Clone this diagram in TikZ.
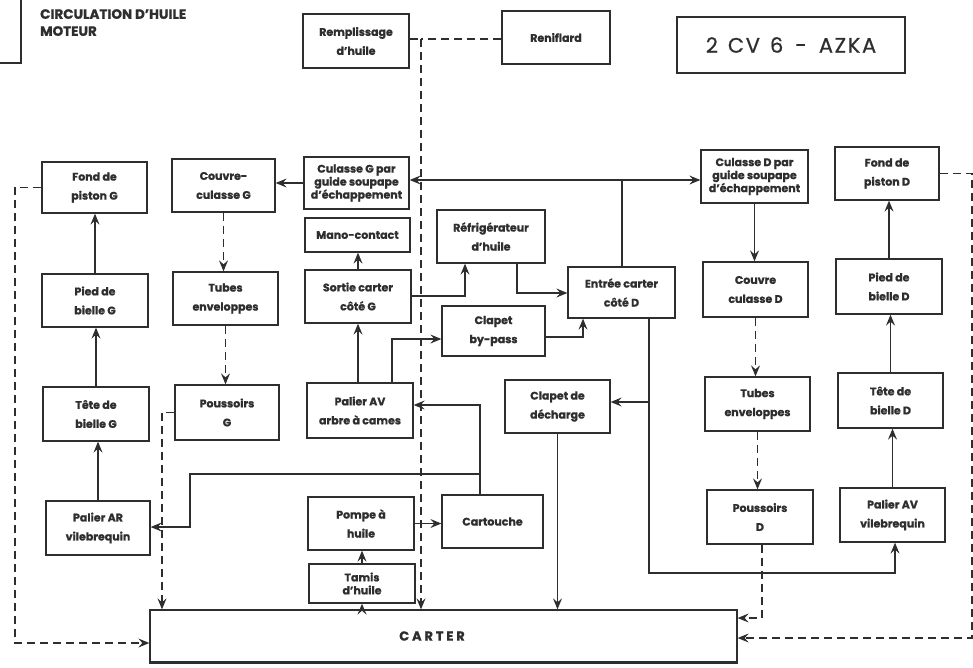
\documentclass[tikz,border=0pt]{standalone}
\usepackage{fontspec}
\setmainfont{Poppins}
\usetikzlibrary{arrows.meta}
\definecolor{ink}{HTML}{2E2E2E}
\newcommand\boxfont{\fontsize{11}{19}\selectfont\bfseries\addfontfeature{FakeBold=1}}
\newcommand\tightfont{\fontsize{11}{13}\selectfont\bfseries\addfontfeature{FakeBold=1}}
\tikzset{
  box/.style={draw=ink, line width=1.3pt, inner sep=0pt, align=center, font=\boxfont, text=ink},
  tight/.style={font=\tightfont},
  sz/.style 2 args={minimum width=#1pt, minimum height=#2pt},
  wire/.style={draw=ink, line width=1.2pt},
  dsh/.style={wire, dash pattern=on 8pt off 5pt},
  arr/.style={-{Stealth[length=11pt,width=9pt,inset=4pt]}},
}
\begin{document}
\begin{tikzpicture}[x=1pt,y=-1pt]
\useasboundingbox (0,0) rectangle (973,667);

% corner of the neighbouring frame and the heading
\draw[draw=ink, line width=1.6pt] (0,63) -- (21,63) -- (21,0);
\node[anchor=north west, align=left, inner sep=0pt, text=ink,
      font=\fontsize{13.5}{17}\selectfont\bfseries\addfontfeature{FakeBold=1}] (heading) at (40,9)
      {CIRCULATION D'HUILE\\MOTEUR};
\node[draw=ink, line width=2.2pt, sz={228}{56}, text=ink,
      font=\fontsize{21}{24}\selectfont\addfontfeature{LetterSpace=8,FakeBold=0.6}] (model) at (791,45)
      {2\hspace{10pt}CV\hspace{10pt}6\hspace{12pt}-\hspace{12pt}AZKA};

% top row
\node[box, sz={106}{54}] (remp)  at (356,41)   {Remplissage\\d'huile};
\node[box, sz={108}{53}] (renif) at (556,37.5) {Reniflard};

% left side (G)
\node[box, sz={105}{51}] (fondG)    at (94.5,187.5) {Fond de\\piston G};
\node[box, sz={106}{53}] (piedG)    at (95,300.5)   {Pied de\\bielle G};
\node[box, sz={106}{54}] (teteG)    at (96,414)     {Tête de\\bielle G};
\node[box, sz={104}{54}] (palierAR) at (98,528)     {Palier AR\\vilebrequin};
\node[box, sz={103}{53}] (couvG)    at (223.5,185.5){Couvre-\\culasse G};
\node[box, sz={105}{53}] (tubesG)   at (225.5,298.5){Tubes\\enveloppes};
\node[box, sz={104}{55}] (pousG)    at (227,412.5)  {Poussoirs\\G};

% centre
\node[box, tight, sz={105}{52}] (culG) at (356.5,183) {Culasse G par\\guide soupape\\d'échappement};
\node[box, sz={105}{34}] (mano)       at (357.5,235) {Mano-contact};
\node[box, sz={106}{53}] (sortieG)    at (358,296.5) {Sortie carter\\côté G};
\node[box, sz={106}{55}] (palierAVac) at (360,410.5) {Palier AV\\arbre à cames};
\node[box, sz={106}{53}] (pompe)      at (361,523.5) {Pompe à\\huile};
\node[box, tight, sz={106}{39}] (tamis) at (362,583.5) {Tamis\\d'huile};
\node[box, sz={108}{53}] (refrig)     at (491,236.5) {Réfrigérateur\\d'huile};
\node[box, sz={103}{50}] (bypass)     at (493.5,331) {Clapet\\by-pass};
\node[box, sz={107}{51}] (entree)     at (621.5,292.5) {Entrée carter\\côté D};
\node[box, sz={105}{53}] (decharge)   at (557.5,406.5) {Clapet de\\décharge};
\node[box, sz={101}{53}] (cartouche)  at (492.5,521.5) {Cartouche};

% right side (D)
\node[box, tight, sz={107}{53}] (culD) at (754.5,176.5) {Culasse D par\\guide soupape\\d'échappement};
\node[box, sz={104}{53}] (fondD)     at (887,173.5)   {Fond de\\piston D};
\node[box, sz={105}{55}] (couvD)     at (755.5,289.5) {Couvre\\culasse D};
\node[box, sz={106}{55}] (piedD)     at (889,286.5)   {Pied de\\bielle D};
\node[box, sz={105}{54}] (tubesD)    at (757.5,404)   {Tubes\\enveloppes};
\node[box, sz={105}{55}] (teteD)     at (890.5,400.5) {Tête de\\bielle D};
\node[box, sz={106}{54}] (pousD)     at (760,517)     {Poussoirs\\D};
\node[box, sz={105}{54}] (palierAVv) at (892.5,515)   {Palier AV\\vilebrequin};

% sump
\node[box, sz={587}{52}] (carter) at (443.5,636) {};
\draw[draw=ink, line width=3pt] (carter.south west) -- (carter.south east);
\node[text=ink, inner sep=0pt,
      font=\fontsize{13}{15}\selectfont\bfseries\addfontfeature{LetterSpace=22,FakeBold=1}]
  (carterText) at (432,636) {CARTER};

% junction points of the pipework
\coordinate (jR)  at (421,39);
\coordinate (jC)  at (622,180);
\coordinate (rS)  at (465,296);
\coordinate (rO)  at (517,293);
\coordinate (bL)  at (392,339);
\coordinate (bR)  at (583,337);
\coordinate (dn)  at (649,573);
\coordinate (dB)  at (649,402);
\coordinate (pv)  at (895,573);
\coordinate (cT)  at (480,405);
\coordinate (cB)  at (480,474);
\coordinate (aL)  at (190,474);
\coordinate (aR)  at (190,527);
\coordinate (fG1) at (15,187.5);
\coordinate (fG2) at (15,643);
\coordinate (pG1) at (162,412.5);
\coordinate (pD)  at (762,618);
\coordinate (fD1) at (972,173.5);
\coordinate (fD2) at (972,638);

% breather and filler return
\draw[dsh] (jR -| renif.west) -- (jR);
\draw[dsh] (jR -| remp.east) -- (jR);
\draw[dsh,arr] (jR) -- (jR |- carter.north);

% pressure feed
\draw[wire,arr] (tamis.south |- carter.north) -- (tamis.south);
\draw[wire,arr] (tamis.north) -- (tamis.north |- pompe.south);
\draw[wire,arr] (pompe.east) -- (pompe.east -| cartouche.west);
\draw[wire,arr] (cartouche.north -| cT) -- (cT) -- (cT -| palierAVac.east);
\draw[wire,arr] (cB) -- (aL) -- (aR) -- (aR -| palierAR.east);
\draw[wire,arr] (palierAVac.north -| sortieG.north) -- (sortieG.south);
\draw[wire,arr] (sortieG.north) -- (sortieG.north |- mano.south);
\draw[wire,arr] (sortieG.east |- rS) -- (rS) -- (rS |- refrig.south);
\draw[wire,arr] (refrig.south -| rO) -- (rO) -- (rO -| entree.west);
\draw[wire,arr] (palierAVac.north -| bL) -- (bL) -- (bL -| bypass.west);
\draw[wire,arr] (bypass.east |- bR) -- (bR) -- (bR |- entree.south);
\draw[wire] (entree.north -| jC) -- (jC);
\draw[wire,arr] (jC) -- (jC -| culG.east);
\draw[wire,arr] (jC) -- (jC -| culD.west);
\draw[wire,arr] (entree.south -| dn) -- (dn) -- (pv) -- (pv |- palierAVv.south);
\draw[wire,arr] (dB) -- (dB -| decharge.east);
\draw[wire,arr] (decharge.south) -- (decharge.south |- carter.north);

% left bank
\draw[wire,arr] (culG.west) -- (culG.west -| couvG.east);
\draw[dsh,arr] (couvG.south) -- (couvG.south |- tubesG.north);
\draw[dsh,arr] (tubesG.south) -- (tubesG.south |- pousG.north);
\draw[dsh,arr] (pousG.west) -- (pG1) -- (pG1 |- carter.north);
\draw[wire,arr] (palierAR.north) -- (palierAR.north |- teteG.south);
\draw[wire,arr] (teteG.north) -- (teteG.north |- piedG.south);
\draw[wire,arr] (piedG.north) -- (piedG.north |- fondG.south);
\draw[dsh,arr] (fondG.west) -- (fG1) -- (fG2) -- (fG2 -| carter.west);

% right bank
\draw[wire,arr] (culD.south) -- (culD.south |- couvD.north);
\draw[dsh,arr] (couvD.south) -- (couvD.south |- tubesD.north);
\draw[dsh,arr] (tubesD.south) -- (tubesD.south |- pousD.north);
\draw[dsh,arr] (pousD.south -| pD) -- (pD) -- (pD -| carter.east);
\draw[wire,arr] (palierAVv.north) -- (palierAVv.north |- teteD.south);
\draw[wire,arr] (teteD.north) -- (teteD.north |- piedD.south);
\draw[wire,arr] (piedD.north) -- (piedD.north |- fondD.south);
\draw[dsh,arr] (fondD.east) -- (fD1) -- (fD2) -- (fD2 -| carter.east);
\end{tikzpicture}
\end{document}
